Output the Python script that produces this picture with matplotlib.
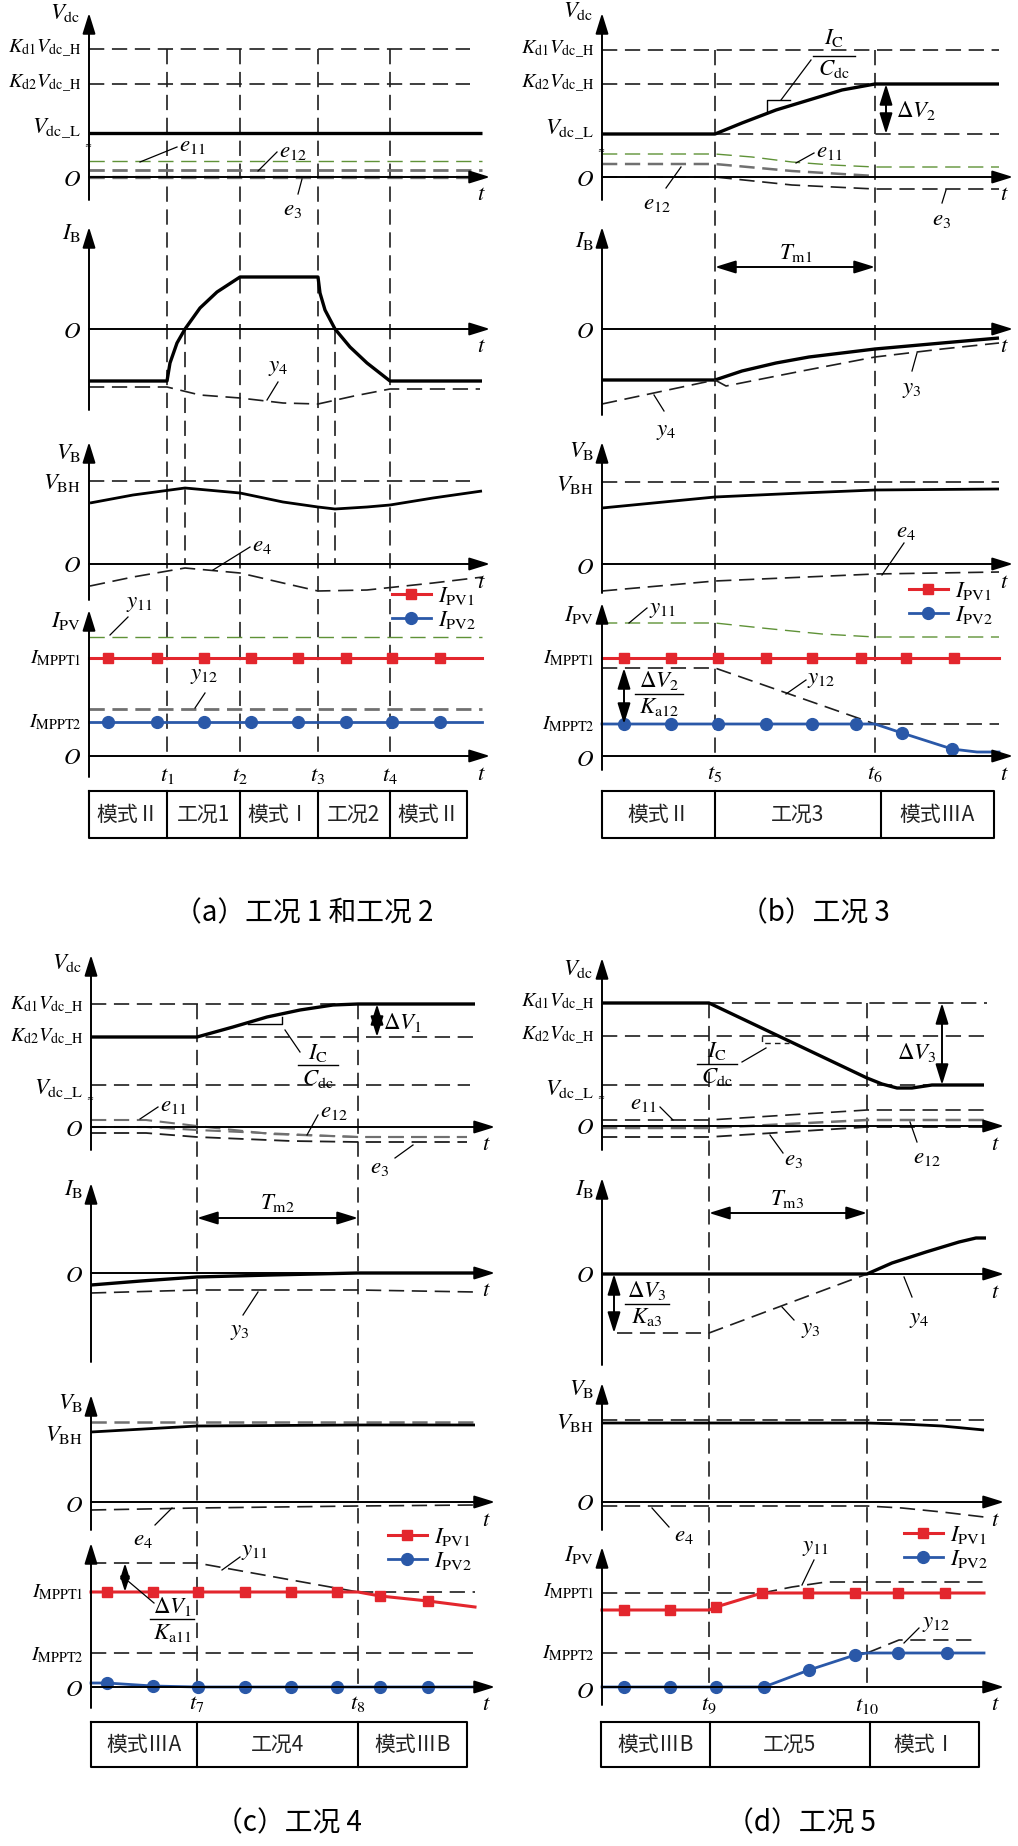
import numpy as np
import matplotlib
matplotlib.use('Agg')
import matplotlib.pyplot as plt

plt.rcParams['font.family'] = ['Noto Sans CJK SC', 'DejaVu Sans']
plt.rcParams['mathtext.fontset'] = 'stix'
plt.rcParams['lines.scale_dashes'] = False

W, H = 1018, 1846
RED = '#e3262d'
BLUE = '#2a58a8'
GREEN = '#5f9237'
DK = '#1e1e1e'
GRAY = '#707070'
FS = 16.5
FS_S = 14.5

# ---------------- data: (a) 工况1和工况2 ----------------
a_events = [78, 151, 229, 301]
a_event_labels = ['$t_1$', '$t_2$', '$t_3$', '$t_4$']
a_cross = [96, 246]
a_modes = ['模式Ⅱ', '工况1', '模式Ⅰ', '工况2', '模式Ⅱ']
a_vdc_levels = [128, 93, 44]          # Kd1*Vdc_H, Kd2*Vdc_H, Vdc_L
a_vdc_t = [0, 393]
a_vdc = [44, 44]
a_e11, a_e12, a_e3 = 16, 7, 0
a_ib_t = [0, 78, 81, 88, 96, 111, 128, 151, 229, 231, 236, 246, 261, 278, 301, 393]
a_ib = [-52, -52, -34, -14, 0, 21, 37, 52, 52, 36, 19, 0, -18, -34, -52, -52]
a_y4_t = [0, 78, 111, 151, 194, 229, 265, 301, 391]
a_y4 = [-58, -58, -66, -69, -74, -75, -67, -60, -60]
a_vbh = 83
a_vb_t = [1, 44, 96, 151, 194, 229, 246, 278, 301, 344, 393]
a_vb = [61, 69, 76, 71, 62, 57, 55, 57, 59, 66, 73]
a_e4_t = [1, 44, 96, 151, 194, 229, 278, 344, 394]
a_e4 = [-22, -13, -4, -9, -19, -27, -26, -19, -13]
a_y11, a_mppt1, a_y12, a_mppt2 = 119, 98, 47, 34
a_mark_t = [19, 68, 115, 162, 209, 257, 303, 351]
a_mark1 = [98] * 8
a_mark2 = [34] * 8

# ---------------- data: (b) 工况3 ----------------
b_events = [113, 273]
b_event_labels = ['$t_5$', '$t_6$']
b_modes = ['模式Ⅱ', '工况3', '模式ⅢA']
b_table_div = [113, 279]
b_vdc_levels = [127, 93, 43]
b_vdc_t = [0, 113, 140, 174, 207, 240, 273, 397]
b_vdc = [43, 43, 54, 67, 77, 87, 93, 93]
b_e11_t = [0, 113, 150, 190, 230, 273, 397]
b_e11 = [23, 23, 20, 15, 12, 10, 10]
b_e12_t = [0, 113, 190, 273]
b_e12 = [13, 13, 6, 1]
b_e3_t = [0, 113, 190, 273, 397]
b_e3 = [0, 0, -8, -12, -12]
b_ib_t = [0, 113, 140, 174, 207, 240, 273, 340, 397]
b_ib = [-51, -51, -42, -34, -28, -24, -20, -14, -9]
b_y4_t = [0, 113]
b_y4 = [-75, -51]
b_y3_t = [113, 124, 200, 273, 340, 397]
b_y3 = [-51, -57, -42, -28, -20, -14]
b_vbh = 82
b_vb_t = [0, 113, 200, 273, 397]
b_vb = [56, 67, 71, 74, 75]
b_e4_t = [0, 113, 273, 397]
b_e4 = [-27, -17, -10, -8]
b_y11_t = [0, 113, 160, 220, 273, 397]
b_y11 = [133, 133, 128, 122, 119, 119]
b_mppt1, b_mppt2 = 98, 32
b_y12_t = [0, 113, 273]
b_y12 = [88, 88, 32]
b_pv1_t = [0, 397]
b_pv1 = [98, 98]
b_pv2_t = [0, 273, 300, 350, 375, 397]
b_pv2 = [32, 32, 23, 7, 4, 4]
b_mark1_t = [22, 69, 116, 164, 210, 259, 304, 352]
b_mark1 = [98] * 8
b_mark2_t = [22, 69, 116, 164, 210, 254, 300, 350]
b_mark2 = [32, 32, 32, 32, 32, 32, 23, 7]

# ---------------- data: (c) 工况4 ----------------
c_events = [106, 267]
c_event_labels = ['$t_7$', '$t_8$']
c_modes = ['模式ⅢA', '工况4', '模式ⅢB']
c_vdc_levels = [123, 90, 42]
c_vdc_t = [0, 106, 142, 176, 209, 242, 267, 384]
c_vdc = [90, 90, 100, 110, 117, 122, 123, 123]
c_e11_t = [0, 55, 106, 180, 267, 376]
c_e11 = [7, 7, 1, -7, -10, -10]
c_e12_t = [0, 55, 106, 216, 267, 376]
c_e12 = [0, 0, -3, -8, -10, -10]
c_e3_t = [0, 55, 106, 200, 267, 376]
c_e3 = [-6, -6, -10, -14, -15, -15]
c_ib_t = [0, 50, 106, 180, 267, 384]
c_ib = [-12, -8, -4, -2, 0, 0]
c_y3_t = [0, 106, 267, 384]
c_y3 = [-20, -17, -17, -19]
c_vbh = 80
c_vb_t = [0, 106, 267, 384]
c_vb = [70, 76, 77, 77]
c_e4_t = [0, 106, 267, 384]
c_e4 = [-8, -6, -4, -3]
c_y11_t = [0, 106, 267]
c_y11 = [124, 124, 95]
c_mppt1, c_mppt2 = 95, 34
c_pv1_t = [0, 267, 289, 337, 384]
c_pv1 = [95, 95, 91, 86, 80]
c_pv2_t = [0, 16, 62, 107, 384]
c_pv2 = [4, 4, 1, 0, 0]
c_mark_t = [16, 62, 107, 154, 200, 246, 289, 337]
c_mark1 = [95, 95, 95, 95, 95, 95, 91, 86]
c_mark2 = [4, 1, 0, 0, 0, 0, 0, 0]

# ---------------- data: (d) 工况5 ----------------
d_events = [107, 265]
d_event_labels = ['$t_9$', '$t_{10}$']
d_modes = ['模式ⅢB', '工况5', '模式Ⅰ']
d_vdc_levels = [123, 90, 41]
d_vdc_t = [0, 107, 265, 280, 295, 310, 330, 382]
d_vdc = [123, 123, 48, 42, 38, 38, 41, 41]
d_e11_t = [0, 107, 265, 382]
d_e11 = [6, 6, 16, 16]
d_e12_t = [0, 107, 265, 382]
d_e12 = [-2, -2, 6, 6]
d_e3_t = [0, 107, 265, 382]
d_e3 = [-11, -11, -1, -1]
d_ib_t = [0, 265, 290, 324, 357, 374, 384]
d_ib = [0, 0, 11, 22, 32, 36, 36]
d_y3_t = [15, 107, 265]
d_y3 = [-59, -59, 0]
d_vbh = 82
d_vb_t = [0, 265, 300, 340, 382]
d_vb = [79, 79, 78, 76, 72]
d_e4_t = [0, 265, 300, 340, 382]
d_e4 = [-4, -4, -6, -10, -15]
d_mppt1, d_mppt2 = 94, 34
d_pv1_t = [0, 107, 114, 160, 382]
d_pv1 = [77, 77, 80, 94, 94]
d_y11_t = [160, 190, 224, 384]
d_y11 = [94, 100, 105, 105]
d_pv2_t = [0, 162, 207, 253, 265, 382]
d_pv2 = [0, 0, 17, 32, 34, 34]
d_y12_t = [265, 297, 374]
d_y12 = [34, 47, 47]
d_mark1_t = [22, 68, 114, 160, 206, 253, 296, 343]
d_mark1 = [77, 77, 80, 94, 94, 94, 94, 94]
d_mark2_t = [22, 68, 114, 162, 207, 253, 296, 345]
d_mark2 = [0, 0, 0, 0, 17, 32, 34, 34]

fig = plt.figure(figsize=(W / 100, H / 100), dpi=100)
fig.patch.set_facecolor('white')


def make_ax(left, top, w, h, x0, base):
    ax = fig.add_axes([left / W, 1 - (top + h) / H, w / W, h / H])
    ax.set_xlim(left - x0, left + w - x0)
    ax.set_ylim(base - top - h, base - top)
    ax.axis('off')
    return ax


def dline(ax, xs, ys, color=DK, lw=1.2, dash=(11, 5.5)):
    ax.plot(xs, ys, color=color, lw=lw, ls=(0, dash), dash_capstyle='butt')


def curve(ax, t, v, off, dashed=False, color='black', lw=2.4):
    y = np.asarray(v, dtype=float) + off
    if dashed:
        dline(ax, t, y, color=color, lw=lw)
    else:
        ax.plot(t, y, color=color, lw=lw, solid_capstyle='butt')


def arrow(ax, p1, p2, both=False, lw=1.4, ms=14):
    style = '<|-|>' if both else '-|>'
    ax.annotate('', xy=p2, xytext=p1,
                arrowprops=dict(arrowstyle=style + ',head_length=0.9,head_width=0.28',
                                lw=lw, color='black', shrinkA=0, shrinkB=0,
                                mutation_scale=ms))


def band(ax, off, top, bottom, tip, labels, lx=-8):
    arrow(ax, (0, off + bottom), (0, off + top))
    arrow(ax, (0, off), (tip, off))
    ax.text(tip - 9, off - 17, '$t$', ha='center', va='center', fontsize=FS)
    for s, y, fs in labels:
        ax.text(lx, off + y, s, ha='right', va='center', fontsize=fs)


def tag(ax, s, xy, p1, p2, ha='center', fs=FS):
    ax.text(xy[0], xy[1], s, ha=ha, va='center', fontsize=fs)
    ax.plot([p1[0], p2[0]], [p1[1], p2[1]], color='black', lw=0.9)


def frac(ax, xc, ybar, hw, num, den, fs=FS, gap=1.5):
    ax.text(xc, ybar + gap, num, ha='center', va='bottom', fontsize=fs)
    ax.plot([xc - hw, xc + hw], [ybar, ybar], color='black', lw=1.0)
    ax.text(xc, ybar - 1.5, den, ha='center', va='top', fontsize=fs)


def pv_curves(ax, t1, v1, m1t, m1, t2, v2, m2t, m2, anchor):
    ax.plot(t1, v1, color=RED, lw=2.2)
    ax.plot(m1t, m1, 's', color=RED, ms=7.5, ls='none')
    ax.plot(t2, v2, color=BLUE, lw=2.0)
    ax.plot(m2t, m2, 'o', color=BLUE, ms=8.5, ls='none')
    p1, = ax.plot([], [], color=RED, lw=2.2, marker='s', ms=7.5)
    p2, = ax.plot([], [], color=BLUE, lw=2.0, marker='o', ms=8.5)
    ax.legend([p1, p2], ['$I_{\\rm PV1}$', '$I_{\\rm PV2}$'], loc='upper left',
              bbox_to_anchor=anchor, bbox_transform=ax.transData, frameon=False,
              fontsize=FS, handlelength=1.7, handletextpad=0.3, labelspacing=0.05,
              borderpad=0, borderaxespad=0, numpoints=1)


def mode_table(ax, x1, x2, y1, y2, divs, labels):
    ax.plot([x1, x2, x2, x1, x1], [y1, y1, y2, y2, y1], color='black', lw=1.5)
    edges = [x1] + list(divs) + [x2]
    for d in divs:
        ax.plot([d, d], [y1, y2], color='black', lw=1.5)
    for i, s in enumerate(labels):
        ax.text((edges[i] + edges[i + 1]) / 2, (y1 + y2) / 2, s, ha='center',
                va='center', fontsize=15, color='#222222')


def t_ticks(ax, events, labels, y=-19):
    for t, s in zip(events, labels):
        ax.text(t, y, s, ha='center', va='center', fontsize=FS)


def squiggle(ax, y):
    ax.text(-1, y, '≈', ha='center', va='center', fontsize=6, family='DejaVu Sans')


KD1 = '$K_{\\rm d1}V_{\\rm dc\\_H}$'
KD2 = '$K_{\\rm d2}V_{\\rm dc\\_H}$'
VDCL = '$V_{\\rm dc\\_L}$'
ICC = ('$I_{\\rm C}$', '$C_{\\rm dc}$')

# ======================= (a) =======================
ax = make_ax(0, 0, 509, 930, 89, 756)
ov, oi, ob, op = 579, 427, 192, 0
tip = 401
for t in a_events:
    dline(ax, [t, t], [ov + a_vdc_levels[0], op])
for t in a_cross:
    dline(ax, [t, t], [oi, ob])
for lv in a_vdc_levels[:2]:
    dline(ax, [0, 381], [ov + lv] * 2)
curve(ax, a_vdc_t, a_vdc, ov)
dline(ax, [0, 393], [ov + a_e11] * 2, color=GREEN, lw=1.0)
dline(ax, [0, 393], [ov + a_e12] * 2, color=GRAY, lw=2.0)
dline(ax, [0, 393], [ov + a_e3] * 2, color=GRAY, lw=2.4)
band(ax, ov, 164, -23, tip, [('$V_{\\rm dc}$', 165, FS), (KD1, 128, FS_S), (KD2, 93, FS_S),
                             (VDCL, 49, FS), ('$O$', -2, FS)])
squiggle(ax, ov + 32)
tag(ax, '$e_{11}$', (90, ov + 32), (51, ov + 15), (88, ov + 30), ha='left')
tag(ax, '$e_{12}$', (190, ov + 26), (169, ov + 6), (188, ov + 25), ha='left')
tag(ax, '$e_3$', (204, ov - 31), (213, ov - 2), (209, ov - 17))

curve(ax, a_ib_t, a_ib, oi)
curve(ax, a_y4_t, a_y4, oi, dashed=True, color=DK, lw=1.2)
band(ax, oi, 102, -81, tip, [('$I_{\\rm B}$', 96, FS), ('$O$', -2, FS)])
tag(ax, '$y_4$', (189, oi - 37), (178, oi - 71), (189, oi - 53))

dline(ax, [0, 381], [ob + a_vbh] * 2)
curve(ax, a_vb_t, a_vb, ob, lw=2.0)
curve(ax, a_e4_t, a_e4, ob, dashed=True, color=DK, lw=1.2)
band(ax, ob, 122, -36, tip, [('$V_{\\rm B}$', 112, FS), ('$V_{\\rm BH}$', 81, FS), ('$O$', -2, FS)])
tag(ax, '$e_4$', (163, ob + 20), (124, ob - 6), (161, ob + 17), ha='left')

dline(ax, [0, 393], [a_y11] * 2, color=GREEN, lw=1.0)
dline(ax, [0, 393], [a_y12] * 2, color=GRAY, lw=2.0)
pv_curves(ax, [0, 393], [a_mppt1] * 2, a_mark_t, a_mark1,
          [0, 393], [a_mppt2] * 2, a_mark_t, a_mark2, (303, 172))
band(ax, op, 146, -21, tip, [('$I_{\\rm PV}$', 136, FS), ('$I_{\\rm MPPT1}$', 98, FS_S),
                             ('$I_{\\rm MPPT2}$', 34, FS_S), ('$O$', -2, FS)])
tag(ax, '$y_{11}$', (37, 153), (21, 121), (39, 139), ha='left')
tag(ax, '$y_{12}$', (115, 81), (106, 48), (116, 63))
t_ticks(ax, a_events, a_event_labels)
mode_table(ax, 0, 378, -35, -82, a_events, a_modes)
ax.text(215, -157, '（a）工况 1 和工况 2', ha='center', va='center', fontsize=20)

# ======================= (b) =======================
ax = make_ax(509, 0, 509, 930, 602, 756)
ov, oi, ob, op = 579, 427, 192, 0
tip = 411
for t in b_events:
    dline(ax, [t, t], [ov + b_vdc_levels[0], op])
dline(ax, [0, 397], [ov + b_vdc_levels[0]] * 2)
dline(ax, [0, b_events[1]], [ov + b_vdc_levels[1]] * 2)
dline(ax, [b_events[0], 397], [ov + b_vdc_levels[2]] * 2)
curve(ax, b_vdc_t, b_vdc, ov)
curve(ax, b_e11_t, b_e11, ov, dashed=True, color=GREEN, lw=1.0)
curve(ax, b_e12_t, b_e12, ov, dashed=True, color=GRAY, lw=1.8)
curve(ax, b_e3_t, b_e3, ov, dashed=True, color=DK, lw=1.2)
band(ax, ov, 164, -23, tip, [('$V_{\\rm dc}$', 166, FS), (KD1, 127, FS_S), (KD2, 93, FS_S),
                             (VDCL, 48, FS), ('$O$', -3, FS)])
squiggle(ax, ov + 27)
arrow(ax, (284, ov + 43), (284, ov + 93), both=True)
ax.text(294, ov + 66, '$\\Delta V_2$', ha='left', va='center', fontsize=FS)
frac(ax, 232, ov + 121, 21, *ICC, gap=7)
ax.plot([179, 209], [ov + 77, ov + 117], color='black', lw=0.9)
ax.plot([165, 165, 188], [ov + 64, ov + 77, ov + 77], color='black', lw=1.0)
tag(ax, '$e_{11}$', (214, ov + 26), (194, ov + 14), (212, ov + 24), ha='left')
tag(ax, '$e_{12}$', (55, ov - 25), (64, ov - 11), (79, ov + 10))
tag(ax, '$e_3$', (340, ov - 41), (344, ov - 13), (340, ov - 26))

curve(ax, b_ib_t, b_ib, oi)
curve(ax, b_y4_t, b_y4, oi, dashed=True, color=DK, lw=1.2)
curve(ax, b_y3_t, b_y3, oi, dashed=True, color=DK, lw=1.2)
band(ax, oi, 102, -86, tip, [('$I_{\\rm B}$', 88, FS), ('$O$', -3, FS)])
arrow(ax, (b_events[0], oi + 62), (b_events[1], oi + 62), both=True)
ax.text(194, oi + 76, '$T_{\\rm m1}$', ha='center', va='center', fontsize=FS)
tag(ax, '$y_3$', (310, oi - 60), (315, oi - 24), (310, oi - 42))
tag(ax, '$y_4$', (64, oi - 101), (52, oi - 66), (62, oi - 82))

dline(ax, [0, 397], [ob + b_vbh] * 2)
curve(ax, b_vb_t, b_vb, ob, lw=2.0)
curve(ax, b_e4_t, b_e4, ob, dashed=True, color=DK, lw=1.2)
band(ax, ob, 122, -29, tip, [('$V_{\\rm B}$', 113, FS), ('$V_{\\rm BH}$', 80, FS), ('$O$', -3, FS)])
tag(ax, '$e_4$', (304, ob + 33), (280, ob - 11), (302, ob + 21))

curve(ax, b_y11_t, b_y11, op, dashed=True, color=GREEN, lw=1.0)
curve(ax, b_y12_t, b_y12, op, dashed=True, color=DK, lw=1.2)
dline(ax, [b_events[1], 397], [b_mppt2] * 2)
pv_curves(ax, b_pv1_t, b_pv1, b_mark1_t, b_mark1,
          b_pv2_t, b_pv2, b_mark2_t, b_mark2, (307, 177))
band(ax, op, 153, -14, tip, [('$I_{\\rm PV}$', 141, FS), ('$I_{\\rm MPPT1}$', 98, FS_S),
                             ('$I_{\\rm MPPT2}$', 32, FS_S), ('$O$', -3, FS)])
arrow(ax, (22, 88), (22, b_mppt2), both=True)
frac(ax, 57, 62, 24, '$\\Delta V_2$', '$K_{\\rm a12}$')
tag(ax, '$y_{11}$', (47, 148), (27, 133), (45, 148), ha='left')
tag(ax, '$y_{12}$', (205, 78), (184, 62), (204, 76), ha='left')
t_ticks(ax, b_events, b_event_labels, y=-17)
mode_table(ax, 0, 392, -35, -82, b_table_div, b_modes)
ax.text(213, -157, '（b）工况 3', ha='center', va='center', fontsize=20)

# ======================= (c) =======================
ax = make_ax(0, 930, 509, 916, 91, 1687)
ov, oi, ob, op = 560, 414, 185, 0
tip = 404
for t in c_events:
    dline(ax, [t, t], [ov + c_vdc_levels[0], op])
dline(ax, [0, 384], [ov + c_vdc_levels[0]] * 2)
dline(ax, [0, 384], [ov + c_vdc_levels[1]] * 2)
dline(ax, [0, 379], [ov + c_vdc_levels[2]] * 2)
curve(ax, c_vdc_t, c_vdc, ov)
curve(ax, c_e11_t, c_e11, ov, dashed=True, color=GRAY, lw=1.5)
curve(ax, c_e12_t, c_e12, ov, dashed=True, color=GRAY, lw=1.5)
curve(ax, c_e3_t, c_e3, ov, dashed=True, color=DK, lw=1.3)
band(ax, ov, 172, -23, tip, [('$V_{\\rm dc}$', 164, FS), (KD1, 121, FS_S), (KD2, 89, FS_S),
                             (VDCL, 38, FS), ('$O$', -3, FS)])
squiggle(ax, ov + 29)
arrow(ax, (286, ov + 90), (286, ov + 123), both=True)
ax.text(292, ov + 105, '$\\Delta V_1$', ha='left', va='center', fontsize=FS)
frac(ax, 227, ov + 62, 20, *ICC)
ax.plot([194, 209], [ov + 97, ov + 75], color='black', lw=0.9)
ax.plot([157, 191, 191], [ov + 103, ov + 103, ov + 110], color='black', lw=1.0)
tag(ax, '$e_{11}$', (69, ov + 23), (49, ov + 8), (67, ov + 20), ha='left')
tag(ax, '$e_{12}$', (229, ov + 17), (216, ov - 8), (227, ov + 12), ha='left')
tag(ax, '$e_3$', (289, ov - 39), (322, ov - 18), (304, ov - 31))

curve(ax, c_ib_t, c_ib, oi)
curve(ax, c_y3_t, c_y3, oi, dashed=True, color=DK, lw=1.2)
band(ax, oi, 90, -89, tip, [('$I_{\\rm B}$', 85, FS), ('$O$', -3, FS)])
arrow(ax, (c_events[0], oi + 55), (c_events[1], oi + 55), both=True)
ax.text(186, oi + 70, '$T_{\\rm m2}$', ha='center', va='center', fontsize=FS)
tag(ax, '$y_3$', (149, oi - 58), (167, oi - 19), (152, oi - 42))

dline(ax, [0, 384], [ob + c_vbh] * 2, color=GRAY, lw=1.8)
curve(ax, c_vb_t, c_vb, ob, lw=2.0)
curve(ax, c_e4_t, c_e4, ob, dashed=True, color=DK, lw=1.2)
band(ax, ob, 107, -28, tip, [('$V_{\\rm B}$', 100, FS), ('$V_{\\rm BH}$', 67, FS), ('$O$', -3, FS)])
tag(ax, '$e_4$', (52, ob - 36), (81, ob - 6), (64, ob - 23))

curve(ax, c_y11_t, c_y11, op, dashed=True, color=DK, lw=1.2)
dline(ax, [c_events[1], 384], [c_mppt1] * 2)
dline(ax, [0, 384], [c_mppt2] * 2)
pv_curves(ax, c_pv1_t, c_pv1, c_mark_t, c_mark1,
          c_pv2_t, c_pv2, c_mark_t, c_mark2, (297, 162))
band(ax, op, 144, -21, tip, [('$I_{\\rm MPPT1}$', 95, FS_S), ('$I_{\\rm MPPT2}$', 32, FS_S),
                             ('$O$', -3, FS)])
arrow(ax, (34, 124), (34, c_mppt1), both=True, ms=10)
ax.plot([37, 63], [106, 84], color='black', lw=0.9)
frac(ax, 81, 68, 22, '$\\Delta V_1$', '$K_{\\rm a11}$')
tag(ax, '$y_{11}$', (150, 136), (131, 117), (149, 130), ha='left')
t_ticks(ax, c_events, c_event_labels, y=-16)
mode_table(ax, 0, 376, -35, -80, c_events, c_modes)
ax.text(197, -136, '（c）工况 4', ha='center', va='center', fontsize=20)

# ======================= (d) =======================
ax = make_ax(509, 930, 509, 916, 602, 1687)
ov, oi, ob, op = 561, 413, 185, 0
tip = 402
for t in d_events:
    dline(ax, [t, t], [ov + d_vdc_levels[0], op])
dline(ax, [d_events[0], 385], [ov + d_vdc_levels[0]] * 2)
dline(ax, [0, 385], [ov + d_vdc_levels[1]] * 2)
dline(ax, [0, 385], [ov + d_vdc_levels[2]] * 2)
curve(ax, d_vdc_t, d_vdc, ov)
curve(ax, d_e11_t, d_e11, ov, dashed=True, color=DK, lw=1.2)
curve(ax, d_e12_t, d_e12, ov, dashed=True, color=GRAY, lw=1.8)
curve(ax, d_e3_t, d_e3, ov, dashed=True, color=DK, lw=1.3)
band(ax, ov, 168, -24, tip, [('$V_{\\rm dc}$', 158, FS), (KD1, 123, FS_S), (KD2, 90, FS_S),
                             (VDCL, 36, FS), ('$O$', -2, FS)])
squiggle(ax, ov + 29)
arrow(ax, (340, ov + 41), (340, ov + 123), both=True)
ax.text(315, ov + 73, '$\\Delta V_3$', ha='center', va='center', fontsize=FS)
frac(ax, 115, ov + 62, 20, *ICC)
ax.plot([140, 164], [ov + 64, ov + 78], color='black', lw=0.9)
dline(ax, [160, 160, 187], [ov + 90, ov + 83, ov + 83], lw=1.0, dash=(4, 3))
tag(ax, '$e_{11}$', (41, ov + 24), (71, ov + 6), (58, ov + 19))
tag(ax, '$e_3$', (192, ov - 33), (168, ov - 9), (181, ov - 27))
tag(ax, '$e_{12}$', (325, ov - 31), (308, ov + 4), (315, ov - 16))

curve(ax, d_ib_t, d_ib, oi)
curve(ax, d_y3_t, d_y3, oi, dashed=True, color=DK, lw=1.2)
band(ax, oi, 96, -91, tip, [('$I_{\\rm B}$', 86, FS), ('$O$', -2, FS)])
arrow(ax, (d_events[0], oi + 61), (d_events[1], oi + 61), both=True)
ax.text(185, oi + 76, '$T_{\\rm m3}$', ha='center', va='center', fontsize=FS)
arrow(ax, (12, oi), (12, oi + d_y3[0]), both=True)
frac(ax, 45, oi - 30, 22, '$\\Delta V_3$', '$K_{\\rm a3}$')
tag(ax, '$y_3$', (209, oi - 55), (180, oi - 33), (192, oi - 46))
tag(ax, '$y_4$', (317, oi - 44), (302, oi - 3), (310, oi - 23))

dline(ax, [0, 385], [ob + d_vbh] * 2)
curve(ax, d_vb_t, d_vb, ob, lw=2.0)
curve(ax, d_e4_t, d_e4, ob, dashed=True, color=DK, lw=1.2)
band(ax, ob, 119, -28, tip, [('$V_{\\rm B}$', 113, FS), ('$V_{\\rm BH}$', 80, FS), ('$O$', -2, FS)])
tag(ax, '$e_4$', (82, ob - 32), (50, ob - 6), (67, ob - 25))

dline(ax, [0, d_pv1_t[3]], [d_mppt1] * 2)
dline(ax, [0, d_events[1]], [d_mppt2] * 2)
curve(ax, d_y11_t, d_y11, op, dashed=True, color=DK, lw=1.2)
curve(ax, d_y12_t, d_y12, op, dashed=True, color=DK, lw=1.2)
pv_curves(ax, d_pv1_t, d_pv1, d_mark1_t, d_mark1,
          d_pv2_t, d_pv2, d_mark2_t, d_mark2, (302, 164))
band(ax, op, 140, -18, tip, [('$I_{\\rm PV}$', 132, FS), ('$I_{\\rm MPPT1}$', 96, FS_S),
                             ('$I_{\\rm MPPT2}$', 34, FS_S), ('$O$', -4, FS)])
tag(ax, '$y_{11}$', (214, 141), (200, 102), (212, 127))
tag(ax, '$y_{12}$', (334, 64), (302, 44), (317, 59))
t_ticks(ax, d_events, d_event_labels, y=-18)
mode_table(ax, -1, 377, -35, -80, [108, 268], d_modes)
ax.text(199, -136, '（d）工况 5', ha='center', va='center', fontsize=20)

fig.savefig('out.png', dpi=100, facecolor='white')
plt.close(fig)
